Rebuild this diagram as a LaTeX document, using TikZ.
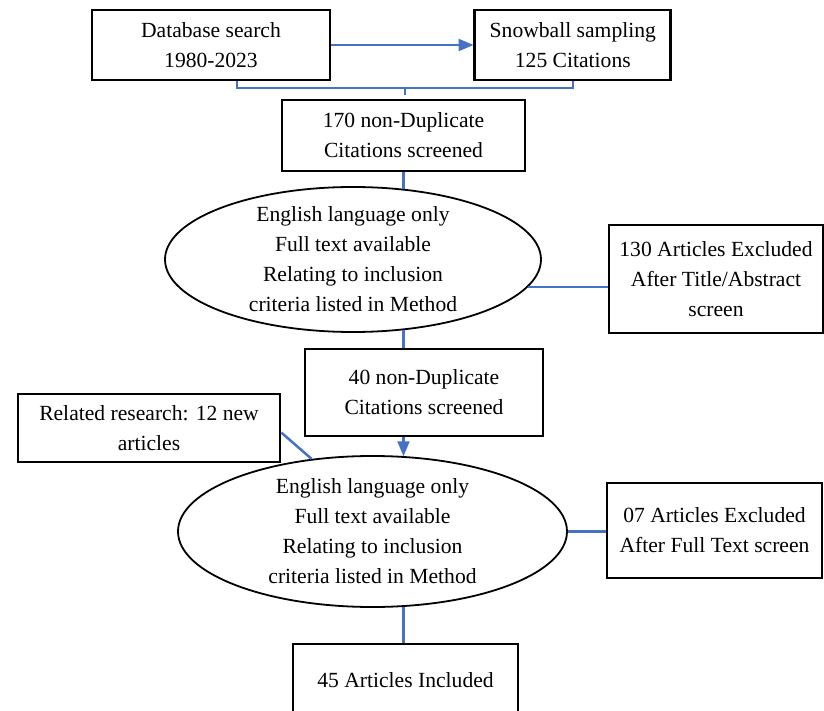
\documentclass[tikz,border=0pt]{standalone}
\usepackage{fontspec}
\setmainfont{Liberation Serif}
\usetikzlibrary{shapes.geometric, arrows, positioning}
\definecolor{flowblue}{RGB}{68,114,196}
\tikzstyle{process} = [rectangle, minimum width=238pt, minimum height=70pt, align=center, draw=black, line width=2.8pt, font=\fontsize{21.6}{30}\selectfont]
\tikzstyle{criteria} = [ellipse, minimum width=376pt, minimum height=145pt, align=center, draw=black, line width=1.8pt, inner xsep=0pt, inner ysep=-12pt, font=\fontsize{21.6}{30}\selectfont]
\tikzstyle{arrow} = [line width=2.5pt, draw=flowblue, ->, >=triangle 45]
\tikzstyle{line}=[
	line width=2.5pt, draw=flowblue,
]

\begin{document}
\begin{tikzpicture}[x=1pt, y=-1pt]
\clip (0,0) rectangle (824,711);
\node (db) [process] at (211,45) {Database search\\1980-2023};
\node (snow) [process, right=142pt of db, minimum width=196pt] {Snowball sampling\\125 Citations};
\node (dup1) [process, minimum width=243pt, minimum height=71pt] at (403.5,135.5) {170 non-Duplicate\\Citations screened};
\node (el1) [criteria] at (353,259.5) {English language only\\Full text available\\Relating to inclusion\\criteria listed in Method};
\node (ex1) [process, minimum width=214pt, minimum height=108pt] at (716,279) {130 Articles Excluded\\After Title/Abstract\\screen};
\node (dup2) [process, minimum height=87pt] at (424,392.5) {40 non-Duplicate\\Citations screened};
\node (rel) [process, minimum width=262pt, minimum height=68pt] at (149,428) {Related research: 12 new\\articles};
\node (el2) [criteria, minimum width=389pt, minimum height=151pt] at (372.5,531.5) {English language only\\Full text available\\Relating to inclusion\\criteria listed in Method};
\node (ex2) [process, minimum width=215pt, minimum height=95pt] at (714.5,530.5) {07 Articles Excluded\\After Full Text screen};
\node (inc) [process, minimum width=225pt, minimum height=72pt] at (405.5,680) {45 Articles Included};

\coordinate (jn) at (405,88);
\draw [arrow] (db) -- (snow);
\path[line] ([xshift=26pt]db.south) |- (jn) -| (snow.south);
\path[line] (jn) -- ++(0,7);
\path[line, shorten >=-2.7pt] (dup1.south) -- (dup1.south |- el1.north);
\path[line, shorten <=-2.7pt] (dup1.south |- el1.south) -- (dup2.north -| dup1.south);
\path[line] (el1.-9.75) -- (el1.-9.75 -| ex1.west);
\draw [arrow, shorten >=-1pt] (dup2.south -| dup1.south) -- (dup1.south |- el2.north);
\path[line] (rel.-2) -- (el2.130);
\path[line] (el2.east) -- (el2.east -| ex2.west);
\path[line, shorten <=-1pt] (dup1.south |- el2.south) -- (dup1.south |- inc.north);
\end{tikzpicture}
\end{document}
